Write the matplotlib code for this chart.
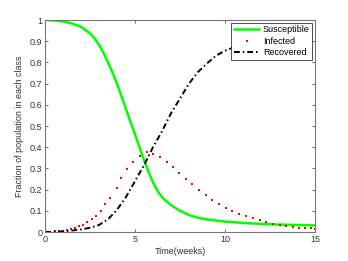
import matplotlib
matplotlib.use('Agg')
import matplotlib.pyplot as plt

plt.rcParams['font.family'] = ['Liberation Sans', 'DejaVu Sans']

# Susceptible
s_t = [0, 0.5, 1.0, 1.5, 2.0, 2.5, 2.75, 3.0, 3.25, 3.5, 3.75, 4.0, 4.5, 5.0, 5.46,
       5.75, 6.02, 6.3, 6.6, 7.0, 7.5, 8.0, 8.5, 9.0, 10.0, 11.0, 12.0, 13.0, 14.0, 15.0]
s_val = [1.0, 0.998, 0.993, 0.984, 0.968, 0.937, 0.913, 0.883, 0.845, 0.8, 0.752, 0.7, 0.58,
         0.46, 0.348, 0.285, 0.23, 0.187, 0.155, 0.127, 0.1, 0.08, 0.067, 0.059, 0.049, 0.043,
         0.038, 0.035, 0.033, 0.031]

# Infected (ode output points)
i_t = [0, 0.06, 0.3, 0.53, 0.77, 0.98, 1.2, 1.44, 1.67, 1.89, 2.13, 2.35, 2.59, 2.83, 3.09, 3.35,
       3.63, 3.98, 4.24, 4.56, 4.89, 5.28, 5.65, 6.02, 6.39, 6.76, 7.09, 7.44, 7.81, 8.18, 8.56,
       8.93, 9.3, 9.67, 10.04, 10.41, 10.78, 11.15, 11.56, 11.93, 12.29, 12.67, 13.04, 13.41,
       13.78, 14.1, 14.45, 14.75, 15.0]
i_val = [0.001, 0.001, 0.002, 0.003, 0.004, 0.006, 0.009, 0.013, 0.018, 0.026, 0.035, 0.046, 0.06,
         0.074, 0.101, 0.131, 0.162, 0.206, 0.253, 0.296, 0.33, 0.36, 0.376, 0.368, 0.355, 0.332,
         0.308, 0.28, 0.25, 0.225, 0.197, 0.173, 0.151, 0.132, 0.115, 0.099, 0.086, 0.075, 0.065,
         0.055, 0.046, 0.039, 0.033, 0.029, 0.025, 0.021, 0.018, 0.017, 0.016]

# Recovered
r_t = [0, 0.5, 1.0, 1.5, 2.0, 2.5, 3.0, 3.5, 4.0, 4.5, 5.0, 5.5, 6.0, 6.5, 7.0, 7.5, 8.0, 8.5,
       9.0, 9.5, 10.0, 10.4, 11.0, 12.0, 13.0, 14.0, 15.0]
r_val = [0, 0.001, 0.003, 0.007, 0.012, 0.02, 0.033, 0.06, 0.105, 0.165, 0.24, 0.315, 0.4, 0.475,
         0.56, 0.63, 0.7, 0.755, 0.795, 0.832, 0.855, 0.868, 0.885, 0.91, 0.928, 0.94, 0.95]

fig = plt.figure(figsize=(3.48, 2.61), dpi=100)
ax = fig.add_axes([45/348, 29/261, 270/348, 212/261])

ax.plot(s_t, s_val, color='#00ff00', lw=1.8, label='Susceptible')
ax.plot(i_t, i_val, ls='none', marker='s', ms=1.6, mew=0, color='red', label='Infected')
ax.plot(r_t, r_val, color='black', lw=1.4, ls=(0, (3, 1.5, 0.8, 1.5)), label='Recovered')

ax.set_xlim(0, 15)
ax.set_ylim(0, 1)
ax.set_xticks([0, 5, 10, 15])
ax.set_yticks([i / 10 for i in range(11)])
ax.set_yticklabels(['0', '0.1', '0.2', '0.3', '0.4', '0.5', '0.6', '0.7', '0.8', '0.9', '1'])
ax.tick_params(direction='in', length=2, width=0.5, labelsize=6.5, colors='#333333',
               top=True, right=True, pad=2)
for sp in ax.spines.values():
    sp.set_color('#777777')
    sp.set_linewidth(0.8)

ax.set_xlabel('Time(weeks)', fontsize=6.5, color='#333333', labelpad=2)
ax.set_ylabel('Fraction of population in each class', fontsize=6.5, color='#333333', labelpad=4)

leg = ax.legend(loc='upper right', fontsize=6.5, frameon=True, fancybox=False,
                borderpad=0.3, labelspacing=0.25, handlelength=2.8, handletextpad=0.4,
                borderaxespad=0.3, markerscale=1.0)
leg.get_frame().set_edgecolor('#333333')
leg.get_frame().set_linewidth(0.6)
leg.get_frame().set_alpha(1)

fig.savefig('out.png', dpi=100)
